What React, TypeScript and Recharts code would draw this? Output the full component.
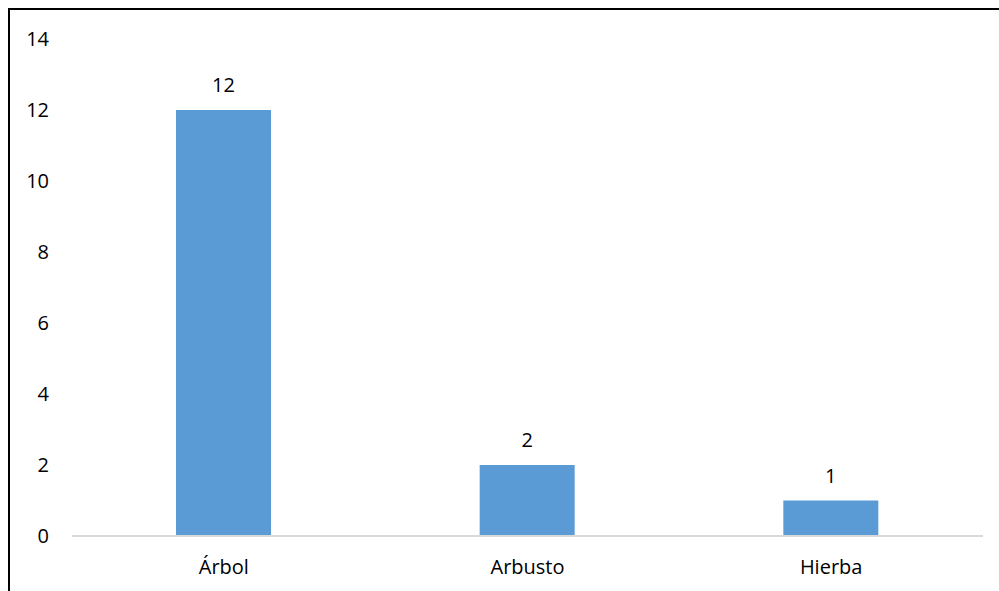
import React from 'react';
import { BarChart, Bar, XAxis, YAxis, LabelList } from 'recharts';

const categories = ['Árbol', 'Arbusto', 'Hierba'];
const values = [12, 2, 1];
const yTicks = [0, 2, 4, 6, 8, 10, 12, 14];

const data = categories.map((name, i) => ({ name, value: values[i] }));

const FONT = '"Open Sans", sans-serif';

export default function App() {
  return (
    <div
      style={{
        position: 'fixed',
        left: 8,
        top: 8,
        width: 991,
        height: 583,
        borderTop: '2px solid #000',
        borderLeft: '2px solid #000',
        boxSizing: 'border-box',
        background: '#fff',
        overflow: 'hidden',
      }}
    >
      <BarChart
        width={989}
        height={581}
        data={data}
        margin={{ top: 29, right: 16, bottom: 25, left: 0 }}
        barCategoryGap={0}
      >
        <XAxis
          dataKey="name"
          height={30}
          axisLine={{ stroke: '#d9d9d9', strokeWidth: 2 }}
          tickLine={false}
          tickSize={0}
          tickMargin={24}
          tick={{ fill: '#000', fontSize: 20, fontFamily: FONT }}
          interval={0}
        />
        <YAxis
          width={62}
          domain={[0, 14]}
          ticks={yTicks}
          interval={0}
          axisLine={false}
          tickLine={false}
          tickSize={0}
          tickMargin={23}
          tick={{ fill: '#000', fontSize: 20, fontFamily: FONT }}
        />
        <Bar dataKey="value" fill="#5b9bd5" barSize={95} isAnimationActive={false}>
          <LabelList
            dataKey="value"
            position="top"
            offset={18}
            style={{ fill: '#000', fontSize: 20, fontFamily: FONT }}
          />
        </Bar>
      </BarChart>
    </div>
  );
}
